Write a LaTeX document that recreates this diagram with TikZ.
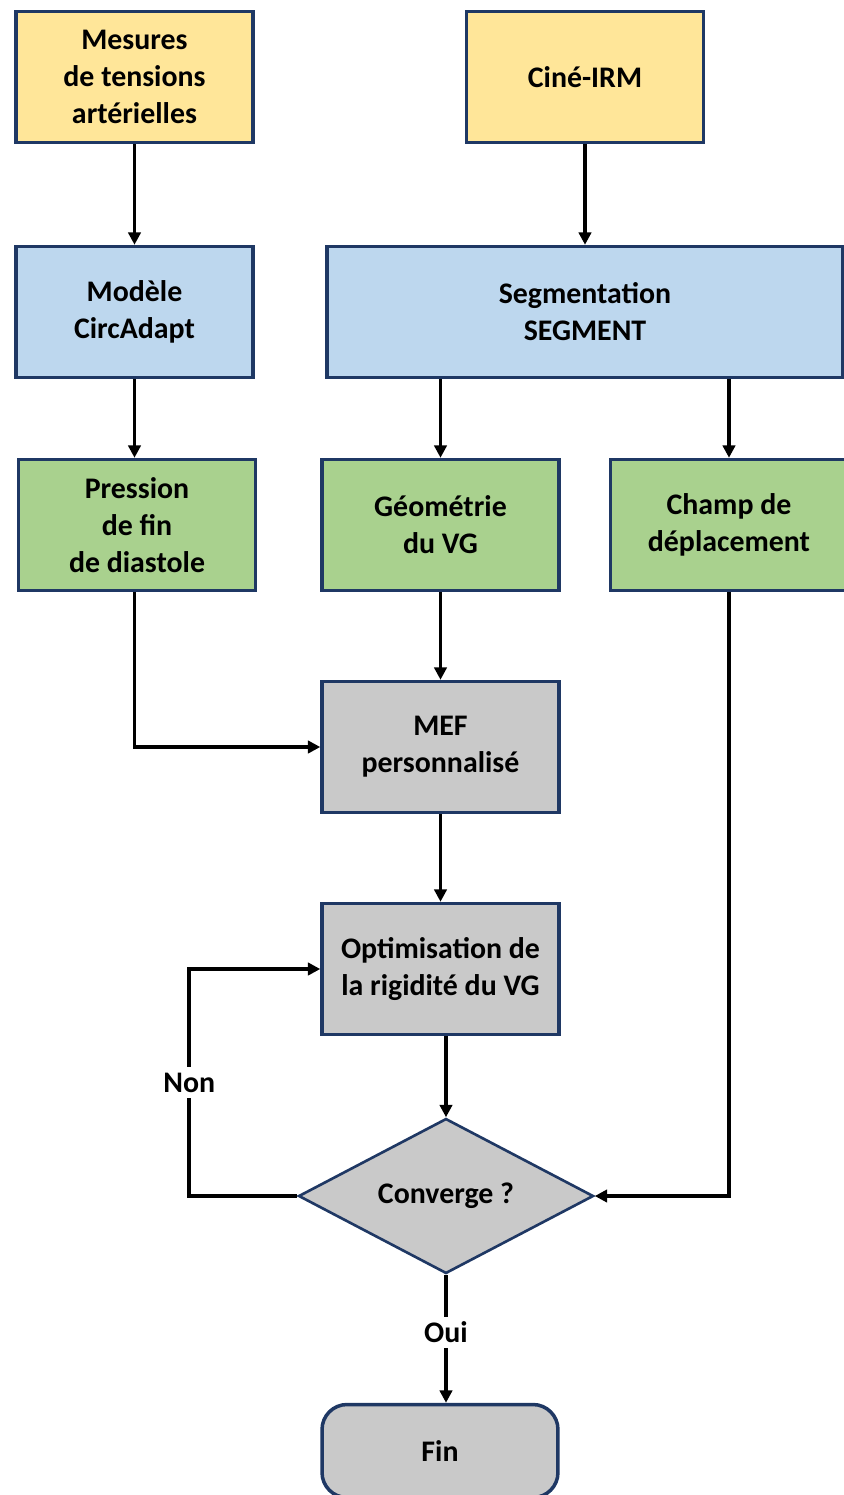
\documentclass[tikz,border=0pt]{standalone}
\usepackage{fontspec}
\setmainfont{Carlito}
\usepackage{xcolor}
\definecolor{myyellow}{RGB}{255,230,153}
\definecolor{myblue}{RGB}{189,215,238}
\definecolor{mygreen}{RGB}{169,209,142}
\definecolor{mygrey}{RGB}{201,201,201}
\definecolor{mynavy}{RGB}{31,56,100}
\usepackage{tikz}
\usetikzlibrary{shapes.geometric,arrows.meta}

\begin{document}
\begin{tikzpicture}[x=0.02cm,y=-0.02cm,line width=2pt,>={Triangle[length=7pt,width=7pt]},font=\fontsize{17}{21}\selectfont\bfseries]
	\tikzstyle{boite}=[draw=mynavy,rectangle,align=center,minimum width=4.74cm,minimum height=2.62cm,inner sep=2pt];
	\tikzstyle{losange}=[draw=mynavy,diamond,aspect=1.9,minimum width=5.9cm,minimum height=3.1cm,inner sep=0pt,fill=mygrey];
	\tikzstyle{etiq}=[fill=white,inner sep=3pt];
	\useasboundingbox (0,0) rectangle (843,1495);
	% entrees
	\node[boite,fill=myyellow] (1) at (134.5,77) {Mesures\\de tensions\\artérielles};
	\node[boite,fill=myyellow] (2) at (585,77) {Ciné-IRM};
	% traitement
	\node[boite,fill=myblue] (3) at (134.5,312) {Modèle\\CircAdapt};
	\node[boite,fill=myblue,minimum width=10.32cm] (4) at (585,312) {Segmentation\\SEGMENT};
	% sorties
	\node[boite,fill=mygreen] (5) at (137,525) {Pression\\de fin\\de diastole};
	\node[boite,fill=mygreen] (6) at (440.5,525) {Géométrie\\du VG};
	\node[boite,fill=mygreen] (7) at (729,525) {Champ de\\déplacement};
	% modele
	\node[boite,fill=mygrey] (8) at (440.5,747) {MEF\\personnalisé};
	\node[boite,fill=mygrey] (9) at (440.5,969) {Optimisation de\\la rigidité du VG};
	\node[losange,line width=1.5pt] (10) at (446,1196) {Converge ?};
	\node[boite,fill=mygrey,rounded corners=0.5cm,minimum width=4.72cm,minimum height=1.86cm] (11) at (440,1451) {Fin};
	\draw[->] (1) to (3);
	\draw[->] (2) to (2.south |- 4.north);
	\draw[->] (3) to (5.north -| 3.south);
	\draw[->] (6.north |- 4.south) to (6);
	\draw[->] (7.north |- 4.south) to (7);
	\draw[->] (6) to (8);
	\draw[->] (3.south |- 5.south) |- (8.west);
	\draw[->] (8) to (9);
	\draw[->] (9.south -| 10.north) to (10.north);
	\draw[->] (7.south) |- (10.east);
	\draw[->] (10.west) -- ++(-108,0) |- node[etiq,pos=0.25] (12) {Non} (9.west);
	\draw[->] (10.south) -- node[etiq,pos=0.45] (13) {Oui} (10.south |- 11.north);
\end{tikzpicture}
\end{document}
